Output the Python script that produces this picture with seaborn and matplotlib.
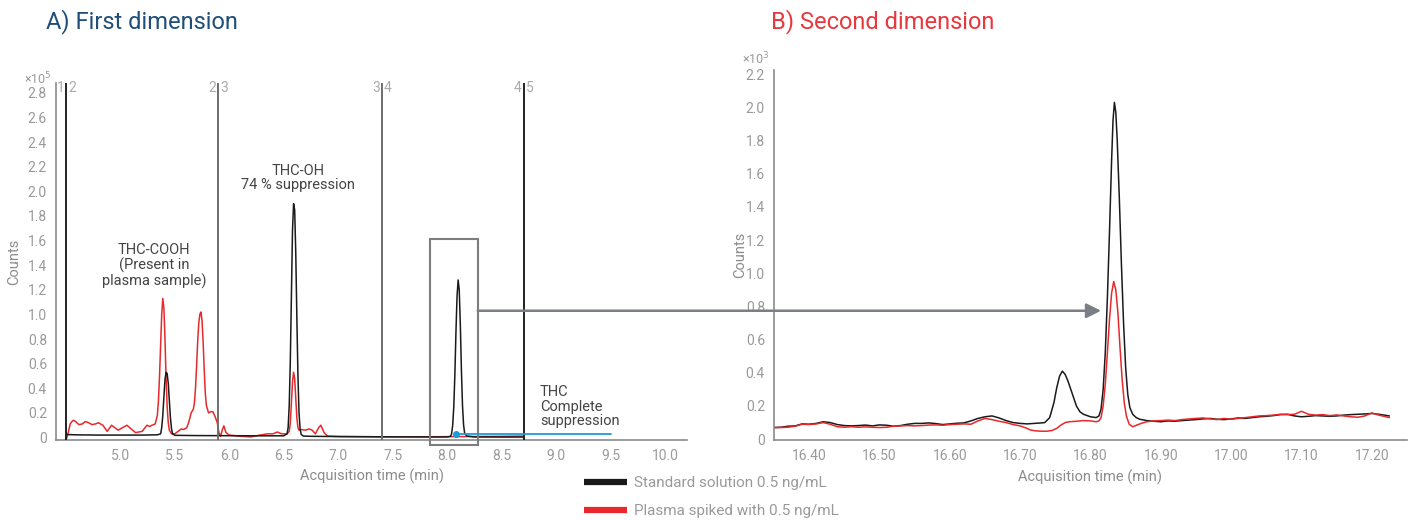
import matplotlib
matplotlib.use("Agg")
import matplotlib.pyplot as plt
import seaborn as sns
import pandas as pd
from matplotlib.patches import Rectangle, ConnectionPatch
from matplotlib.lines import Line2D
import matplotlib.transforms as mtransforms

# ---------------- data ----------------
# Panel A: first dimension (counts x10^5)
a_std_time = [4.500, 4.505, 4.52, 4.60, 4.80, 5.00, 5.20, 5.34, 5.37, 5.38, 5.39, 5.40, 5.41, 5.42,
              5.43, 5.44, 5.45, 5.46, 5.47, 5.48, 5.50, 5.70, 6.00, 6.30, 6.50, 6.53, 6.54, 6.55,
              6.56, 6.57, 6.58, 6.59, 6.60, 6.61, 6.62, 6.63, 6.64, 6.65, 6.66, 6.68, 6.75, 7.00,
              7.40, 7.80, 8.00, 8.03, 8.04, 8.05, 8.06, 8.07, 8.08, 8.09, 8.10, 8.11, 8.12, 8.13,
              8.14, 8.15, 8.16, 8.18, 8.25, 8.50, 8.70]
a_std_counts = [-0.01, 0.025, 0.024, 0.022, 0.020, 0.020, 0.020, 0.022, 0.03, 0.08, 0.18, 0.33, 0.47, 0.53,
                0.52, 0.44, 0.30, 0.16, 0.07, 0.03, 0.018, 0.016, 0.015, 0.014, 0.014, 0.03, 0.08, 0.26,
                0.62, 1.15, 1.68, 1.90, 1.85, 1.50, 0.98, 0.50, 0.20, 0.07, 0.025, 0.012, 0.010, 0.008,
                0.006, 0.005, 0.005, 0.01, 0.03, 0.10, 0.25, 0.51, 0.86, 1.15, 1.28, 1.20, 0.92, 0.55,
                0.26, 0.10, 0.035, 0.012, 0.005, 0.004, 0.004]

a_pl_time = [4.500, 4.51, 4.525, 4.54, 4.556, 4.57, 4.59, 4.62, 4.65, 4.68, 4.71, 4.74, 4.77, 4.80,
             4.84, 4.88, 4.92, 4.95, 4.98, 5.02, 5.06, 5.10, 5.14, 5.20, 5.245, 5.27, 5.29, 5.32,
             5.34, 5.35, 5.36, 5.37, 5.38, 5.39, 5.40, 5.41, 5.42, 5.43, 5.44, 5.45, 5.47, 5.50,
             5.53, 5.56, 5.58, 5.61, 5.63, 5.65, 5.67, 5.68, 5.69, 5.70, 5.71, 5.72, 5.73, 5.74,
             5.75, 5.76, 5.77, 5.78, 5.79, 5.81, 5.83, 5.85, 5.87, 5.89, 5.905, 5.92, 5.935, 5.95,
             5.97, 6.00, 6.10, 6.20, 6.28, 6.35, 6.40, 6.44, 6.48, 6.53, 6.55, 6.56, 6.57, 6.58,
             6.59, 6.60, 6.61, 6.62, 6.63, 6.64, 6.66, 6.70, 6.73, 6.76, 6.79, 6.82, 6.84, 6.87,
             6.90, 7.00, 7.40, 7.80, 8.20, 8.50, 8.70]
a_pl_counts = [-0.02, 0.0, 0.05, 0.11, 0.13, 0.14, 0.13, 0.105, 0.11, 0.13, 0.12, 0.105, 0.11, 0.12,
               0.10, 0.05, 0.10, 0.08, 0.06, 0.08, 0.10, 0.07, 0.04, 0.05, 0.10, 0.09, 0.10, 0.11,
               0.18, 0.30, 0.50, 0.75, 1.00, 1.13, 1.05, 0.80, 0.48, 0.25, 0.12, 0.06, 0.03, 0.03,
               0.05, 0.07, 0.065, 0.08, 0.13, 0.20, 0.23, 0.28, 0.40, 0.58, 0.78, 0.93, 1.00, 1.02,
               0.95, 0.78, 0.55, 0.36, 0.26, 0.20, 0.21, 0.21, 0.17, 0.12, 0.04, 0.01, 0.06, 0.095,
               0.04, 0.02, 0.01, 0.005, 0.02, 0.03, 0.03, 0.045, 0.03, 0.03, 0.05, 0.12, 0.28, 0.45,
               0.53, 0.48, 0.32, 0.16, 0.08, 0.06, 0.065, 0.06, 0.07, 0.06, 0.03, 0.08, 0.10, 0.04,
               0.012, 0.008, 0.006, 0.006, 0.008, 0.01, 0.012]

# Panel B: second dimension (counts x10^3)
b_std_time = [16.350, 16.360, 16.370, 16.380, 16.390, 16.400, 16.410, 16.420, 16.430, 16.440, 16.450,
              16.460, 16.470, 16.480, 16.490, 16.500, 16.510, 16.520, 16.530, 16.540, 16.550, 16.560,
              16.570, 16.580, 16.590, 16.600, 16.610, 16.620, 16.630, 16.640, 16.650, 16.660, 16.670,
              16.680, 16.690, 16.700, 16.710, 16.720, 16.730, 16.735, 16.742, 16.748, 16.752, 16.756,
              16.760, 16.764, 16.768, 16.772, 16.776, 16.780, 16.785, 16.790, 16.800, 16.808, 16.812,
              16.815, 16.818, 16.821, 16.824, 16.827, 16.830, 16.832, 16.834, 16.836, 16.838, 16.841,
              16.844, 16.847, 16.850, 16.853, 16.856, 16.860, 16.865, 16.870, 16.880, 16.890, 16.900,
              16.910, 16.920, 16.930, 16.940, 16.950, 16.960, 16.970, 16.980, 16.990, 17.000, 17.010,
              17.020, 17.030, 17.040, 17.050, 17.060, 17.070, 17.080, 17.090, 17.100, 17.110, 17.120,
              17.130, 17.140, 17.150, 17.160, 17.170, 17.180, 17.190, 17.200, 17.210, 17.225]
b_std_counts = [0.070, 0.072, 0.078, 0.080, 0.092, 0.090, 0.095, 0.105, 0.100, 0.088, 0.082,
                0.080, 0.082, 0.085, 0.080, 0.086, 0.084, 0.078, 0.082, 0.090, 0.095, 0.095,
                0.098, 0.094, 0.088, 0.092, 0.096, 0.098, 0.110, 0.125, 0.135, 0.140, 0.128,
                0.112, 0.100, 0.095, 0.092, 0.095, 0.098, 0.100, 0.130, 0.220, 0.310, 0.380,
                0.410, 0.390, 0.350, 0.300, 0.250, 0.200, 0.165, 0.150, 0.135, 0.130, 0.140,
                0.180, 0.300, 0.520, 0.850, 1.250, 1.680, 1.920, 2.030, 1.970, 1.800, 1.450,
                1.050, 0.700, 0.430, 0.270, 0.190, 0.150, 0.130, 0.120, 0.112, 0.108, 0.105,
                0.110, 0.108, 0.112, 0.115, 0.118, 0.122, 0.125, 0.120, 0.118, 0.122, 0.128,
                0.125, 0.130, 0.135, 0.138, 0.142, 0.148, 0.150, 0.140, 0.135, 0.138, 0.142,
                0.140, 0.138, 0.140, 0.145, 0.148, 0.150, 0.152, 0.155, 0.150, 0.140]

b_pl_time = [16.350, 16.360, 16.370, 16.380, 16.390, 16.400, 16.410, 16.420, 16.430, 16.440, 16.450,
             16.460, 16.470, 16.480, 16.490, 16.500, 16.510, 16.520, 16.530, 16.540, 16.550, 16.560,
             16.570, 16.580, 16.590, 16.600, 16.610, 16.620, 16.630, 16.640, 16.650, 16.660, 16.670,
             16.680, 16.690, 16.700, 16.708, 16.715, 16.722, 16.730, 16.738, 16.745, 16.752, 16.758,
             16.764, 16.770, 16.780, 16.790, 16.800, 16.808, 16.812, 16.815, 16.818, 16.821, 16.824,
             16.827, 16.830, 16.833, 16.836, 16.839, 16.842, 16.845, 16.848, 16.851, 16.855, 16.860,
             16.866, 16.872, 16.880, 16.890, 16.900, 16.910, 16.920, 16.930, 16.940, 16.950, 16.960,
             16.970, 16.980, 16.990, 17.000, 17.010, 17.020, 17.030, 17.040, 17.050, 17.060, 17.070,
             17.080, 17.090, 17.100, 17.110, 17.120, 17.130, 17.140, 17.150, 17.160, 17.170, 17.180,
             17.190, 17.200, 17.210, 17.225]
b_pl_counts = [0.070, 0.070, 0.072, 0.078, 0.090, 0.088, 0.092, 0.100, 0.090, 0.075, 0.072,
               0.075, 0.072, 0.074, 0.072, 0.070, 0.072, 0.078, 0.080, 0.082, 0.080, 0.082,
               0.085, 0.086, 0.084, 0.088, 0.090, 0.092, 0.090, 0.110, 0.125, 0.118, 0.108,
               0.100, 0.088, 0.080, 0.068, 0.055, 0.050, 0.048, 0.048, 0.052, 0.065, 0.085,
               0.100, 0.105, 0.108, 0.112, 0.110, 0.105, 0.110, 0.130, 0.200, 0.330, 0.520,
               0.720, 0.880, 0.950, 0.900, 0.760, 0.550, 0.360, 0.220, 0.140, 0.090, 0.075,
               0.085, 0.095, 0.105, 0.110, 0.112, 0.115, 0.112, 0.118, 0.122, 0.125, 0.128,
               0.122, 0.118, 0.125, 0.120, 0.125, 0.130, 0.135, 0.140, 0.142, 0.145, 0.150,
               0.148, 0.150, 0.168, 0.150, 0.145, 0.148, 0.142, 0.146, 0.140, 0.135, 0.132,
               0.140, 0.158, 0.145, 0.130]

# Heart-cut segment boundaries (panel A)
seg_times = [4.505, 5.90, 7.40, 8.70]
seg_labels = [("1", "2"), ("2", "3"), ("3", "4"), ("4", "5")]
seg_colors = ["#222222", "#6e6e6e", "#6e6e6e", "#222222"]

a_xticks = [5.0, 5.5, 6.0, 6.5, 7.0, 7.5, 8.0, 8.5, 9.0, 9.5, 10.0]
a_xticklabels = ["5.0", "5.5", "6.0", "6.5", "7.0", "7.5", "8.0", "8.5", "9.0", "9.5", "10.0"]
a_yticks = [0, 0.2, 0.4, 0.6, 0.8, 1.0, 1.2, 1.4, 1.6, 1.8, 2.0, 2.2, 2.4, 2.6, 2.8]
a_yticklabels = ["0", "0.2", "0.4", "0.6", "0.8", "1.0", "1.2", "1.4", "1.6", "1.8", "2.0",
                 "2.2", "2.4", "2.6", "2.8"]
b_xticks = [16.4, 16.5, 16.6, 16.7, 16.8, 16.9, 17.0, 17.1, 17.2]
b_xticklabels = ["16.40", "16.50", "16.60", "16.70", "16.80", "16.90", "17.00", "17.10", "17.20"]
b_yticks = [0, 0.2, 0.4, 0.6, 0.8, 1.0, 1.2, 1.4, 1.6, 1.8, 2.0, 2.2]
b_yticklabels = ["0", "0.2", "0.4", "0.6", "0.8", "1.0", "1.2", "1.4", "1.6", "1.8", "2.0", "2.2"]

series_names = ["Standard solution 0.5 ng/mL", "Plasma spiked with 0.5 ng/mL"]
series_colors = ["#1a1a1a", "#e8282b"]

# annotation anchors
box_x = [7.84, 8.28]
box_y = [-0.06, 1.61]
thc_line_x = [8.08, 9.50]
thc_line_y = [0.03, 0.03]
arrow_y_a = 1.03
arrow_tip_x_b = 16.815

# ---------------- style ----------------
sns.set_theme(style="white")
plt.rcParams["font.family"] = ["Roboto", "DejaVu Sans"]
AX_GRAY = "#8a8a8a"
TXT_GRAY = "#9a9a9a"
LBL_GRAY = "#8c8c8c"

fig = plt.figure(figsize=(14.10, 5.20), dpi=100)
axA = fig.add_axes([56 / 1410, 80 / 520, 631 / 1410, 357 / 520])
axB = fig.add_axes([774 / 1410, 80 / 520, 633 / 1410, 370 / 520])

dfA = pd.concat([
    pd.DataFrame({"t": a_std_time, "c": a_std_counts, "s": series_names[0]}),
    pd.DataFrame({"t": a_pl_time, "c": a_pl_counts, "s": series_names[1]}),
])
dfB = pd.concat([
    pd.DataFrame({"t": b_std_time, "c": b_std_counts, "s": series_names[0]}),
    pd.DataFrame({"t": b_pl_time, "c": b_pl_counts, "s": series_names[1]}),
])

# draw plasma first then standard on top in panel A
sns.lineplot(data=dfA[dfA.s == series_names[1]], x="t", y="c", color=series_colors[1], lw=1.1,
             estimator=None, sort=False, ax=axA, legend=False)
sns.lineplot(data=dfA[dfA.s == series_names[0]], x="t", y="c", color=series_colors[0], lw=1.1,
             estimator=None, sort=False, ax=axA, legend=False)
sns.lineplot(data=dfB[dfB.s == series_names[0]], x="t", y="c", color=series_colors[0], lw=1.1,
             estimator=None, sort=False, ax=axB, legend=False)
sns.lineplot(data=dfB[dfB.s == series_names[1]], x="t", y="c", color=series_colors[1], lw=1.1,
             estimator=None, sort=False, ax=axB, legend=False)

for ax in (axA, axB):
    for side in ("top", "right"):
        ax.spines[side].set_visible(False)
    for side in ("left", "bottom"):
        ax.spines[side].set_color(AX_GRAY)
        ax.spines[side].set_linewidth(1.2)
    ax.tick_params(axis="both", which="both", direction="out", colors=AX_GRAY,
                   labelcolor=TXT_GRAY, labelsize=10)
    ax.tick_params(which="major", length=3, width=1)
    ax.tick_params(which="minor", length=2, width=0.8)
    ax.set_xlabel("Acquisition time (min)", color=LBL_GRAY, fontsize=10.5)
    ax.set_ylabel("Counts", color=LBL_GRAY, fontsize=10.5)
    ax.grid(False)

axA.set_xlim(4.41, 10.2)
axA.set_ylim(-0.02, 2.88)
axA.set_xticks(a_xticks)
axA.set_xticklabels(a_xticklabels)
axA.set_yticks(a_yticks)
axA.set_yticklabels(a_yticklabels)
axA.set_yticks([v + 0.1 for v in a_yticks[:-1]], minor=True)
axA.xaxis.set_label_coords(0.5, -0.08)
axA.yaxis.set_label_coords(-0.056, 0.5)

axB.set_xlim(16.35, 17.226)
axB.set_ylim(-0.005, 2.225)
axB.set_xticks(b_xticks)
axB.set_xticklabels(b_xticklabels)
axB.set_xticks([v + 0.05 for v in [16.3] + b_xticks], minor=True)
axB.set_yticks(b_yticks)
axB.set_yticklabels(b_yticklabels)
axB.set_yticks([v + 0.1 for v in b_yticks[:-1]], minor=True)
axB.xaxis.set_label_coords(0.5, -0.08)
axB.yaxis.set_label_coords(-0.043, 0.5)

# multipliers
axA.text(-0.05, 1.01, "×10$^5$", transform=axA.transAxes, ha="left", va="center",
         color=TXT_GRAY, fontsize=9)
axB.text(-0.05, 1.03, "×10$^3$", transform=axB.transAxes, ha="left", va="center",
         color=TXT_GRAY, fontsize=9)

# segment lines and labels
trans = mtransforms.blended_transform_factory(axA.transData, axA.transAxes)
for t, (l1, l2), c in zip(seg_times, seg_labels, seg_colors):
    axA.axvline(t, color=c, lw=1.4, zorder=3)
    axA.text(t - 0.02, 0.985, l1, transform=trans, ha="right", va="center", color="#aaaaaa", fontsize=10)
    axA.text(t + 0.02, 0.985, l2, transform=trans, ha="left", va="center", color="#aaaaaa", fontsize=10)

# zoom box
axA.add_patch(Rectangle((box_x[0], box_y[0]), box_x[1] - box_x[0], box_y[1] - box_y[0],
                        fill=False, edgecolor="#7d7d7d", lw=1.5, clip_on=False, zorder=4))

# THC line
axA.plot(thc_line_x, thc_line_y, color="#1e9bd7", lw=1.3, zorder=5)
axA.plot(thc_line_x[:1], thc_line_y[:1], "o", color="#1e9bd7", ms=4, zorder=5)

# annotations
ann_kw = dict(color="#444444", fontsize=10.5, linespacing=1.05)
axA.text(5.31, 1.395, "THC-COOH\n(Present in\nplasma sample)", ha="center", va="center", **ann_kw)
axA.text(6.63, 2.11, "THC-OH\n74 % suppression", ha="center", va="center", **ann_kw)
axA.text(8.85, 0.25, "THC\nComplete\nsuppression", ha="left", va="center", **ann_kw)

# arrow between panels, kept horizontal
fig.canvas.draw()
disp = axA.transData.transform((box_x[1], arrow_y_a))
yB = axB.transData.inverted().transform(disp)[1]
con = ConnectionPatch(xyA=(box_x[1], arrow_y_a), coordsA=axA.transData,
                      xyB=(arrow_tip_x_b, yB), coordsB=axB.transData,
                      arrowstyle="-|>", mutation_scale=22, color="#7a7f85", lw=1.8, zorder=10)
fig.add_artist(con)

# titles
fig.text(46 / 1410, 1 - 22 / 520, "A) First dimension", color="#1f4e79", fontsize=17,
         ha="left", va="center")
fig.text(771 / 1410, 1 - 22 / 520, "B) Second dimension", color="#e8383d", fontsize=17,
         ha="left", va="center")

# legend
handles = [Line2D([0], [0], color=c, lw=4.5, solid_capstyle="butt") for c in series_colors]
leg = fig.legend(handles, series_names, loc="center left", bbox_to_anchor=(570 / 1410, 1 - 497 / 520),
                 frameon=False, fontsize=11, handlelength=2.8, handletextpad=0.5, labelspacing=0.9,
                 labelcolor=TXT_GRAY)

fig.savefig("out.png", dpi=100)
